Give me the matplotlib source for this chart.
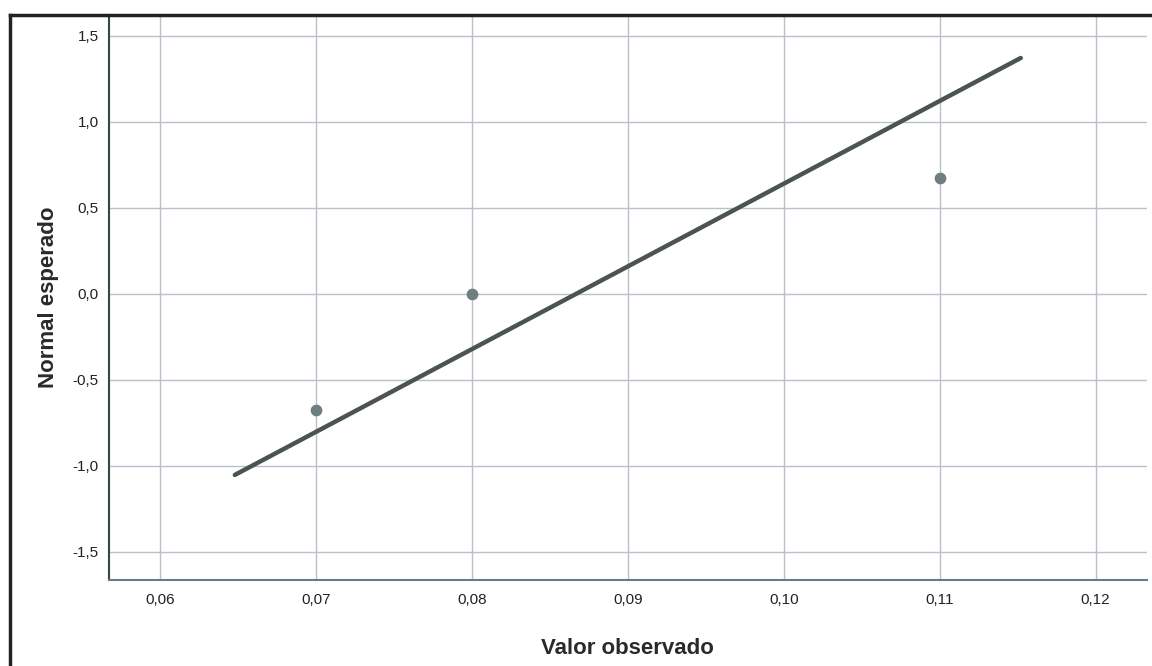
import numpy as np
import matplotlib.pyplot as plt
from matplotlib.lines import Line2D

plt.rcParams['font.family'] = ['Liberation Sans', 'DejaVu Sans']

# observed values and expected normal quantiles
valor_observado = [0.07, 0.08, 0.11]
normal_esperado = [-0.674, 0.0, 0.674]

# reference line end points
linea_x = [0.0648, 0.1152]
linea_y = [-1.054, 1.370]

x_ticks = [0.06, 0.07, 0.08, 0.09, 0.10, 0.11, 0.12]
y_ticks = [-1.5, -1.0, -0.5, 0.0, 0.5, 1.0, 1.5]

fig = plt.figure(figsize=(11.52, 6.66), dpi=100)
ax = fig.add_axes([0.0942, 0.1291, 0.9015, 0.8484])

ax.set_xlim(0.0567, 0.1233)
ax.set_ylim(-1.665, 1.62)

ax.grid(True, color='#b9c1cc', linewidth=1.0)
ax.set_axisbelow(True)

ax.plot(linea_x, linea_y, color='#4b5450', linewidth=3.2, solid_capstyle='round', zorder=3)
ax.scatter(valor_observado, normal_esperado, s=55, color='#6f7f80', zorder=4)

ax.set_xticks(x_ticks)
ax.set_yticks(y_ticks)
ax.set_xticklabels([f"{v:.2f}".replace('.', ',') for v in x_ticks])
ax.set_yticklabels([f"{v:.1f}".replace('.', ',') for v in y_ticks])
ax.tick_params(axis='x', length=0, labelsize=11, colors='#222222', pad=9)
ax.tick_params(axis='y', length=0, labelsize=11, colors='#222222', pad=7)

ax.set_xlabel('Valor observado', fontsize=16, fontweight='bold', color='#2a2a2a', labelpad=23)
ax.set_ylabel('Normal esperado', fontsize=16, fontweight='bold', color='#2a2a2a', labelpad=10)

for s in ['top', 'right']:
    ax.spines[s].set_visible(False)
ax.spines['left'].set_color('#2e4a44')
ax.spines['left'].set_linewidth(1.5)
ax.spines['bottom'].set_color('#6a7a88')
ax.spines['bottom'].set_linewidth(1.5)

# outer frame (top and left, cut off at image edges)
fig.add_artist(Line2D([10/1152, 1.0], [1-15/666, 1-15/666], color='#222222', linewidth=2.5))
fig.add_artist(Line2D([10/1152, 10/1152], [0.0, 1-15/666], color='#222222', linewidth=2.5))

fig.savefig('out.png', dpi=100)
